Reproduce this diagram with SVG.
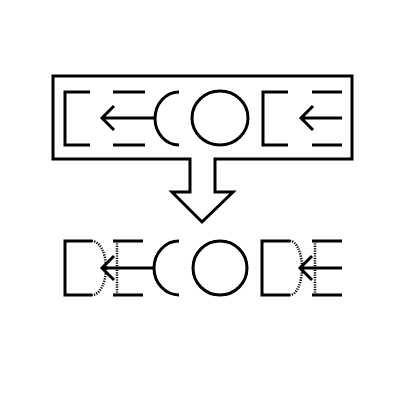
<svg xmlns="http://www.w3.org/2000/svg" width="400" height="400" viewBox="0 0 400 400">
<style>
.s{fill:none;stroke:#000;stroke-width:3;stroke-linecap:butt;stroke-linejoin:miter}
.d{fill:none;stroke:#000;stroke-width:2.5;stroke-dasharray:1.2,1.2}
</style>
<rect width="400" height="400" fill="#fff"/>
<g id="frame">
<path class="s" d="M53,76 H352 V159 H215 V192 H233 L202,222 L172,192 H190 V159 H53 Z"/>
</g>
<g id="encoded">
<path class="s" d="M90,92 H65 V145 H90"/>
<path class="s" d="M113,92 H145 M113,145 H145 M155,118 H103 M114,106 L102,118 L114,130"/>
<path class="s" d="M179,92 A24,26.5 0 0 0 179,145"/>
<ellipse class="s" cx="220" cy="118" rx="28" ry="27"/>
<path class="s" d="M288,92 H263 V145 H288"/>
<path class="s" d="M312,92 H342 M312,145 H342 M342,118 H301 M313,106 L301,118 L313,130"/>
</g>
<g id="decoded">
<path class="s" d="M92,241 H65 V295 H92"/>
<path class="d" d="M92,241 A14,27 0 0 1 92,295"/>
<path class="d" d="M117,241 V295"/>
<path class="s" d="M113,241 H143 M113,295 H143 M154,268 H103 M114,256 L102,268 L114,280"/>
<path class="s" d="M179,241 A25,27 0 0 0 179,295"/>
<ellipse class="s" cx="220" cy="268" rx="27" ry="27"/>
<path class="s" d="M290,241 H262 V295 H290"/>
<path class="d" d="M290,241 A12,27 0 0 1 290,295"/>
<path class="d" d="M315,241 V295"/>
<path class="s" d="M312,241 H342 M312,295 H342 M342,268 H301 M312,256 L300,268 L312,280"/>
</g>
</svg>
